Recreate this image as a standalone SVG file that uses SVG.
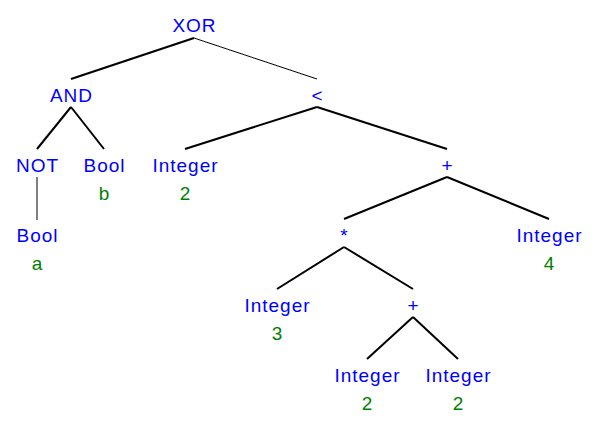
<svg xmlns="http://www.w3.org/2000/svg" width="598" height="424" viewBox="0 0 598 424">
<style>
.t,.v{font-family:"Liberation Sans",Arial,sans-serif;font-size:19px;letter-spacing:1px;text-anchor:middle}
.t{fill:#0000ff}
.v{fill:#008000}
.e line{stroke:#000;stroke-width:2;fill:none}
.e line.thin{stroke-width:1}
</style>
<rect width="598" height="424" fill="#fff"/>
<g class="e" id="connectors">
<line x1="194" y1="38" x2="71" y2="79"/>
<line class="thin" x1="194" y1="38" x2="317" y2="79"/>
<line x1="71" y1="107" x2="37" y2="149"/>
<line x1="71" y1="107" x2="104" y2="149"/>
<line class="thin" x1="37" y1="177" x2="37" y2="220"/>
<line x1="317" y1="107" x2="185" y2="149"/>
<line x1="317" y1="107" x2="447" y2="149"/>
<line x1="447" y1="177" x2="344" y2="219"/>
<line x1="447" y1="177" x2="549" y2="219"/>
<line x1="344" y1="247" x2="277" y2="289"/>
<line x1="344" y1="247" x2="413" y2="289"/>
<line x1="413" y1="317" x2="367" y2="359"/>
<line x1="413" y1="317" x2="458" y2="359"/>
</g>
<g id="xor"><text class="t" x="194.5" y="32">XOR</text></g>
<g id="and"><text class="t" x="71.5" y="102">AND</text></g>
<g id="lt"><text class="t" x="317.5" y="102">&lt;</text></g>
<g id="not"><text class="t" x="37.5" y="172">NOT</text></g>
<g id="boolb"><text class="t" x="104.5" y="172">Bool</text><text class="v" x="104.5" y="200">b</text></g>
<g id="int2a"><text class="t" x="185.5" y="172">Integer</text><text class="v" x="185.5" y="200">2</text></g>
<g id="plus1"><text class="t" x="447.5" y="172">+</text></g>
<g id="boola"><text class="t" x="37.5" y="242">Bool</text><text class="v" x="37.5" y="270">a</text></g>
<g id="mul"><text class="t" x="344.5" y="242">*</text></g>
<g id="int4"><text class="t" x="549.5" y="242">Integer</text><text class="v" x="549.5" y="270">4</text></g>
<g id="int3"><text class="t" x="277.5" y="312">Integer</text><text class="v" x="277.5" y="340">3</text></g>
<g id="plus2"><text class="t" x="413.5" y="312">+</text></g>
<g id="int2b"><text class="t" x="367.5" y="382">Integer</text><text class="v" x="367.5" y="410">2</text></g>
<g id="int2c"><text class="t" x="458.5" y="382">Integer</text><text class="v" x="458.5" y="410">2</text></g>
</svg>
